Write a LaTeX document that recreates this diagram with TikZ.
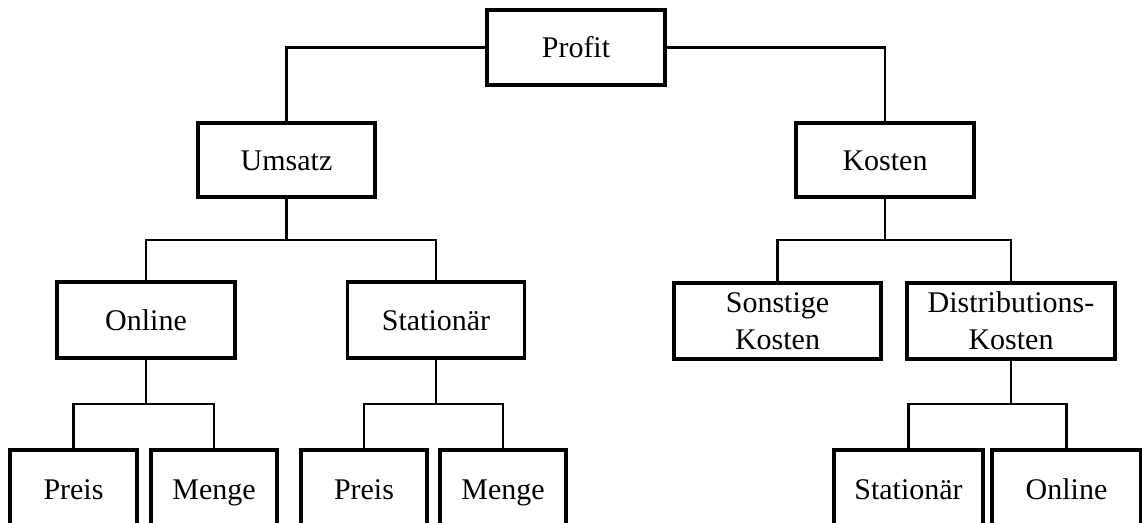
\documentclass[tikz,border=0pt]{standalone}
\usepackage{fontspec}
\setmainfont{Liberation Serif}
\begin{document}
\begin{tikzpicture}[x=0.75pt,y=-0.75pt,
  every node/.style={font=\fontsize{22.5}{27.5}\selectfont},
  box/.style 2 args={draw=black, line width=2.4pt, fill=white, inner sep=0pt,
    align=center, minimum width=#1*0.75pt, minimum height=#2*0.75pt},
  oneline/.style={text height=15pt, text depth=0pt},
  link/.style={draw=black, line width=2.1pt}]
  % page area
  \clip (0,0) rectangle (1142,522);
  \fill[white] (0,0) rectangle (1142,522);

  % first and second level
  \node[box={178}{75}, oneline] (profit) at (576,47.5) {Profit};
  \node[box={177}{74}, oneline] (umsatz) at (286.5,160) {Umsatz};
  \node[box={178}{74}, oneline] (kosten) at (885,160) {Kosten};

  % third level
  \node[box={178}{76}, oneline] (online) at (146,320) {Online};
  \node[box={177}{76}, oneline] (stat) at (436,320) {Stationär};
  \node[box={207}{76}] (sonst) at (777.5,321) {Sonstige\\Kosten};
  \node[box={208}{76}] (distr) at (1011,321) {Distributions-\\Kosten};

  % fourth level (runs off the lower edge)
  \node[box={127}{78}, oneline] (preisA) at (73.5,489) {Preis};
  \node[box={126}{78}, oneline] (mengeA) at (214,489) {Menge};
  \node[box={126}{78}, oneline] (preisB) at (364,489) {Preis};
  \node[box={126}{78}, oneline] (mengeB) at (503,489) {Menge};
  \node[box={149}{78}, oneline] (statK) at (908.5,489) {Stationär};
  \node[box={149}{78}, oneline] (onlK) at (1066.5,489) {Online};

  % junction points of the branches
  \coordinate (uj) at (umsatz.south |- 0,240);
  \coordinate (kj) at (kosten.south |- 0,240);
  \coordinate (oj) at (online.south |- 0,404);
  \coordinate (sj) at (stat.south |- 0,404);
  \coordinate (dj) at (distr.south |- 0,404);

  % connectors
  \draw[link] (profit.west) -| (umsatz.north);
  \draw[link] (profit.east) -| (kosten.north);

  \draw[link] (umsatz.south) -- (uj);
  \draw[link] (online.north) |- (uj) -| (stat.north);

  \draw[link] (kosten.south) -- (kj);
  \draw[link] (sonst.north) |- (kj) -| (distr.north);

  \draw[link] (online.south) -- (oj);
  \draw[link] (preisA.north) |- (oj) -| (mengeA.north);

  \draw[link] (stat.south) -- (sj);
  \draw[link] (preisB.north) |- (sj) -| (mengeB.north);

  \draw[link] (distr.south) -- (dj);
  \draw[link] (statK.north) |- (dj) -| (onlK.north);
\end{tikzpicture}
\end{document}
